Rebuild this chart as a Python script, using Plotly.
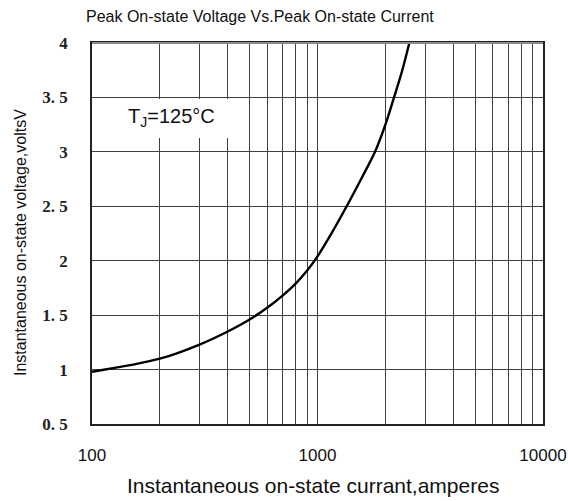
import plotly.graph_objects as go

# Data
current_a = [100, 200, 300, 400, 500, 600, 700, 800, 900, 1000, 1175, 1347, 1570, 1799, 2000, 2184, 2377, 2554, 2650]
voltage_v = [0.98, 1.10, 1.23, 1.35, 1.46, 1.57, 1.68, 1.79, 1.91, 2.04, 2.28, 2.5, 2.76, 3.0, 3.25, 3.5, 3.75, 4.0, 4.14]

x_grid_vals = [100, 200, 300, 400, 500, 600, 700, 800, 900,
               1000, 2000, 3000, 4000, 5000, 6000, 7000, 8000, 9000, 10000]
x_tick_text = ["100", "", "", "", "", "", "", "", "",
               "1000", "", "", "", "", "", "", "", "", "10000"]
y_tick_vals = [0.5, 1, 1.5, 2, 2.5, 3, 3.5, 4]
y_tick_text = ["0. 5", "1", "1. 5", "2", "2. 5", "3", "3. 5", "4"]

title_text = "Peak On-state Voltage Vs.Peak On-state Current"
x_title = "Instantaneous on-state currant,amperes"
y_title = "Instantaneous on-state voltage,voltsV"
tj_label = "T<sub>J</sub>=125°C"

# page body margin is removed below, so layout works directly in page pixels
W, H = 568, 501
PL, PR, PT, PB = 92, 543, 43, 424   # plot area in page pixels


def px(xp):
    return (xp - PL) / (PR - PL)


def py(yp):
    return (PB - yp) / (PB - PT)


fig = go.Figure()
fig.add_trace(go.Scatter(
    x=current_a, y=voltage_v, mode="lines",
    line=dict(color="black", width=2.4, shape="spline", smoothing=1.0),
    showlegend=False, hoverinfo="skip",
))

grid_col = "#404040"
fig.update_xaxes(
    type="log", range=[2, 4],
    tickvals=x_grid_vals, ticktext=x_tick_text,
    showgrid=True, gridcolor=grid_col, gridwidth=1,
    showline=True, mirror=True, linecolor="#222", linewidth=1.5,
    ticks="", ticklabelstandoff=15, ticklabeloverflow="allow",
    tickfont=dict(family="Liberation Sans, Arial", size=17, color="#111"),
    zeroline=False, automargin=False,
)
fig.update_yaxes(
    range=[0.5, 4],
    tickvals=y_tick_vals, ticktext=y_tick_text,
    showgrid=True, gridcolor=grid_col, gridwidth=1,
    showline=True, mirror=True, linecolor="#222", linewidth=1.5,
    ticks="", ticklabelstandoff=19, ticklabeloverflow="allow",
    tickfont=dict(family="Liberation Serif, serif", size=17, color="#222", weight="bold"),
    zeroline=False, automargin=False,
)

# top frame edge is lighter grey in the reference
fig.add_shape(type="line", xref="paper", yref="paper", x0=0, x1=1, y0=1, y1=1,
              line=dict(color="#8a8a8a", width=2), layer="above")

fig.add_shape(type="rect", xref="paper", yref="paper",
              x0=px(93.5), x1=px(240), y0=py(138), y1=py(99),
              fillcolor="white", line=dict(width=0), layer="above")

fig.add_annotation(text=tj_label, xref="paper", yref="paper",
                   x=px(171.5), y=py(117),
                   showarrow=False, xanchor="center", yanchor="middle",
                   font=dict(family="Liberation Sans, Arial", size=20, color="#111"))

fig.add_annotation(text=title_text, xref="paper", yref="paper",
                   x=px(260), y=py(17),
                   showarrow=False, xanchor="center", yanchor="middle",
                   font=dict(family="Liberation Sans, Arial", size=16, color="#111"))

fig.add_annotation(text=x_title, xref="paper", yref="paper",
                   x=px(313), y=py(485),
                   showarrow=False, xanchor="center", yanchor="middle",
                   font=dict(family="Liberation Sans, Arial", size=21, color="#111"))

fig.add_annotation(text=y_title, xref="paper", yref="paper",
                   x=px(20), y=py(243),
                   showarrow=False, xanchor="center", yanchor="middle", textangle=-90,
                   font=dict(family="Liberation Sans, Arial", size=16, color="#111"))

fig.update_layout(
    width=W, height=H,
    margin=dict(l=PL, r=W - PR, t=PT, b=H - PB),
    paper_bgcolor="white", plot_bgcolor="white",
)

fig.write_html(
    "out.html",
    config={"displayModeBar": False},
    post_script="document.body.style.margin='0';document.body.style.overflow='hidden';",
)
